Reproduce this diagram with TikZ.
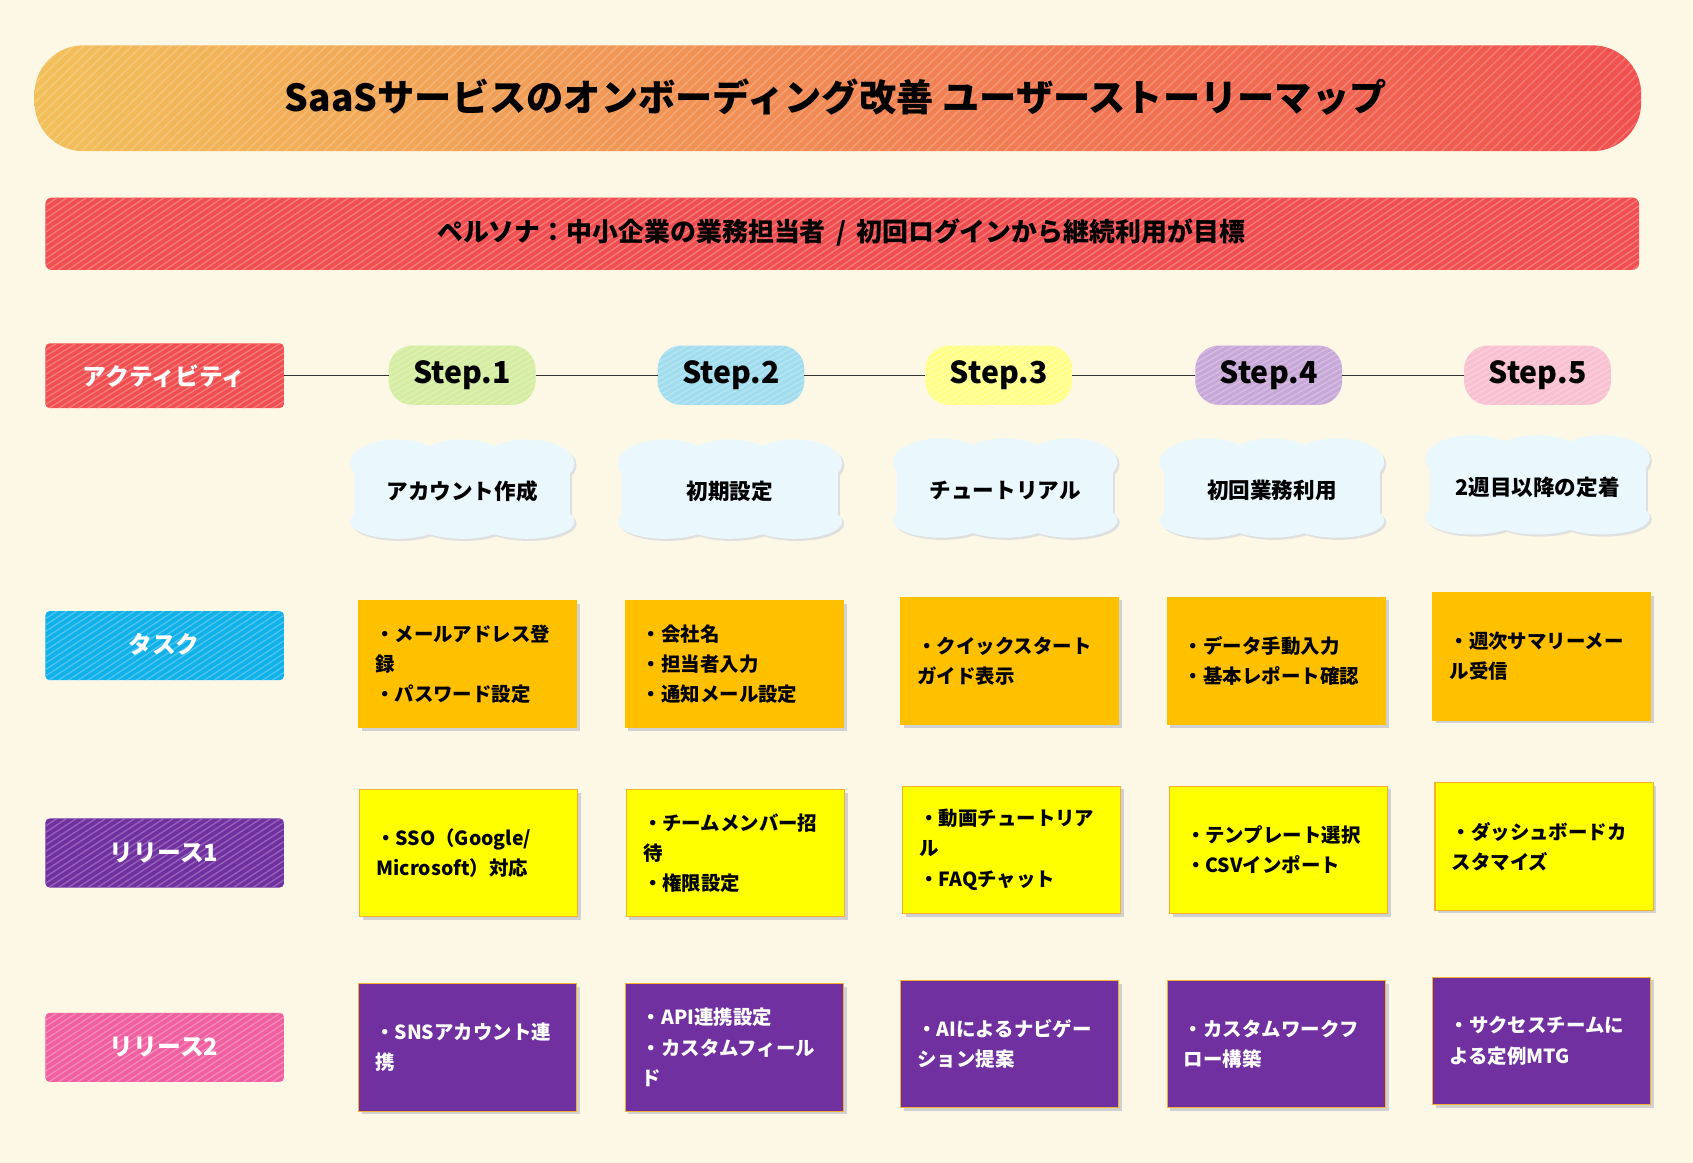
\documentclass[tikz,border=0pt]{standalone}
\usepackage{fontspec}
\setmainfont{Noto Sans CJK JP}
\definecolor{bg}{HTML}{FDF8E6}
\definecolor{tOr}{HTML}{F2C05A}
\definecolor{tRd}{HTML}{F0504F}
\definecolor{rRed}{HTML}{F04E50}
\definecolor{rBlue}{HTML}{10B0E8}
\definecolor{rPur}{HTML}{7030A0}
\definecolor{rPink}{HTML}{F060A0}
\definecolor{sG}{HTML}{D4EDA0}
\definecolor{sB}{HTML}{A0DDEE}
\definecolor{sY}{HTML}{FFFF88}
\definecolor{sP}{HTML}{C8A8D8}
\definecolor{sK}{HTML}{F8C0D0}
\definecolor{cloud}{HTML}{EAF8FE}
\definecolor{task}{HTML}{FFC000}
\definecolor{rel}{HTML}{FFFF00}
\definecolor{bord}{HTML}{F5B030}
\newcommand\hatch[6]{% x1 y1 x2 y2 color radius
  \begin{scope}
  \path[fill=#5,rounded corners=#6pt] (#1,#2) rectangle (#3,#4);
  \clip[rounded corners=#6pt] (#1,#2) rectangle (#3,#4);
  \pgfmathtruncatemacro\hs{#1-120}\pgfmathtruncatemacro\hn{#1-111}\pgfmathtruncatemacro\he{#3+20}
  \pgfmathtruncatemacro\ya{#4+4}\pgfmathtruncatemacro\yb{#2-4}
  \foreach \i in {\hs,\hn,...,\he}{\draw[#5!65!white,line width=1.3pt,opacity=.7] (\i,\ya) -- ++(110,\yb-\ya);}
  \end{scope}}
\tikzset{x=1pt,y=-1pt,
 lab/.style={font=\bfseries\fontsize{22}{26}\selectfont,text=white},
 stp/.style={font=\bfseries\fontsize{28}{32}\selectfont},
 ctext/.style={font=\bfseries\fontsize{20}{24}\selectfont},
 card/.style={font=\bfseries\fontsize{18}{28}\selectfont,text width=182pt,align=left,anchor=west},
 conn/.style={black!80,line width=1pt},
}
\newcommand\cloudshape[2]{% cx cy
  \begin{scope}[shift={(#1,#2)}]
   \fill[gray!25] (-98,-28) rectangle (102,34);
   \foreach \dx in {-60,0,60}{\fill[gray!25] (\dx+2,-24) ellipse (44 and 22); \fill[gray!25] (\dx+2,30) ellipse (44 and 16);}
   \fill[cloud] (-100,-30) rectangle (100,30);
   \foreach \dx in {-60,0,60}{\fill[cloud] (\dx,-26) ellipse (44 and 22); \fill[cloud] (\dx,28) ellipse (44 and 16);}
  \end{scope}}
\newcommand\card[7]{% x1 y1 name fill text textcolor border
  \fill[black!18] (#1+3,#2+3) rectangle (#1+205,#2+121);
  \draw[fill=#4,draw=#7,line width=1pt] (#1,#2) rectangle (#1+202,#2+118);
  \node[card,text=#6] (#3) at (#1+12,#2+59) {#5};}
\begin{document}
\begin{tikzpicture}
\fill[bg] (0,0) rectangle (1568,1077);
\useasboundingbox (0,0) rectangle (1568,1077);
% title
\begin{scope}
\clip[rounded corners=45pt] (32,42) rectangle (1520,140);
\shade[left color=tOr,right color=tRd] (32,42) rectangle (1520,140);
\foreach \i in {-100,-91,...,1530}{\draw[white,opacity=.2,line width=1.3pt] (\i,144) -- ++(110,-106);}
\end{scope}
\node[font=\bfseries\fontsize{34.5}{38}\selectfont] (title) at (774,90) {SaaSサービスのオンボーディング改善 ユーザーストーリーマップ};
\hatch{42}{183}{1518}{250}{rRed}{6}
\node[font=\bfseries\fontsize{24}{28}\selectfont] (persona) at (779,215) {ペルソナ：中小企業の業務担当者 \,/\, 初回ログインから継続利用が目標};
% row labels
\hatch{42}{318}{263}{378}{rRed}{4}\node[lab] (la) at (152,348) {アクティビティ};
\hatch{42}{566}{263}{630}{rBlue}{4}\node[lab] (lt) at (152,597) {タスク};
\hatch{42}{758}{263}{822}{rPur}{4}\node[lab] (lr1) at (152,790) {リリース1};
\hatch{42}{938}{263}{1002}{rPink}{4}\node[lab] (lr2) at (152,970) {リリース2};
\coordinate (lend) at (263,348);
% steps
\foreach \x/\c/\n in {428/sG/1,677/sB/2,925/sY/3,1175/sP/4,1424/sK/5}{
  \hatch{\x-68}{320}{\x+68}{375}{\c}{22}
  \node[stp] (s\n) at (\x,347) {Step.\n};
  \coordinate (sl\n) at (\x-68,348);
  \coordinate (sr\n) at (\x+68,348);
}
\begin{scope}[on background layer/.try]
\end{scope}
\draw[conn] (lend) -- (sl1);
\draw[conn] (sr1) -- (sl2);
\draw[conn] (sr2) -- (sl3);
\draw[conn] (sr3) -- (sl4);
\draw[conn] (sr4) -- (sl5);
% clouds
\foreach \x/\y/\t/\n in {428/455/アカウント作成/1,676/455/初期設定/2,931/454/チュートリアル/3,1178/454/初回業務利用/4,1424/451/2週目以降の定着/5}{
  \cloudshape{\x}{\y}
  \node[ctext] (c\n) at (\x,\y) {\t};
}
% cards
\card{332}{556}{t1}{task}{・メールアドレス登\\録\\・パスワード設定}{black}{task}
\card{579}{556}{t2}{task}{・会社名\\・担当者入力\\・通知メール設定}{black}{task}
\card{834}{553}{t3}{task}{・クイックスタート\\ガイド表示}{black}{task}
\card{1081}{553}{t4}{task}{・データ手動入力\\・基本レポート確認}{black}{task}
\card{1327}{549}{t5}{task}{・週次サマリーメー\\ル受信}{black}{task}
\card{333}{731}{a1}{rel}{・SSO（Google/\\Microsoft）対応}{black}{bord}
\card{580}{731}{a2}{rel}{・チームメンバー招\\待\\・権限設定}{black}{bord}
\card{836}{728}{a3}{rel}{・動画チュートリア\\ル\\・FAQチャット}{black}{bord}
\card{1083}{728}{a4}{rel}{・テンプレート選択\\・CSVインポート}{black}{bord}
\card{1329}{725}{a5}{rel}{・ダッシュボードカ\\スタマイズ}{black}{bord}
\card{332}{911}{b1}{rPur}{・SNSアカウント連\\携}{white}{bord}
\card{579}{911}{b2}{rPur}{・API連携設定\\・カスタムフィール\\ド}{white}{bord}
\card{834}{908}{b3}{rPur}{・AIによるナビゲー\\ション提案}{white}{bord}
\card{1081}{908}{b4}{rPur}{・カスタムワークフ\\ロー構築}{white}{bord}
\card{1327}{905}{b5}{rPur}{・サクセスチームに\\よる定例MTG}{white}{bord}
\end{tikzpicture}
\end{document}
